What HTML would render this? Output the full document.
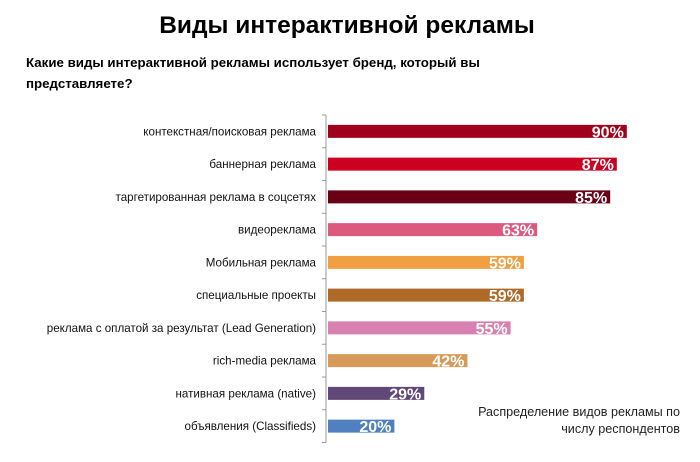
<!DOCTYPE html>
<html><head><meta charset="utf-8"><style>
body{margin:0;background:#fff;width:700px;height:457px;overflow:hidden;font-family:"Liberation Sans","DejaVu Sans",sans-serif}
</style></head><body>
<svg width="700" height="457" xmlns="http://www.w3.org/2000/svg">
<text x="347" y="33" text-anchor="middle" font-size="24.5" font-weight="bold" fill="#000">Виды интерактивной рекламы</text>
<text x="26" y="67" font-size="13.3" font-weight="bold" fill="#000">Какие виды интерактивной рекламы использует бренд, который вы</text>
<text x="26" y="88" font-size="13.3" font-weight="bold" fill="#000">представляете?</text>
<g id="plot"></g>
<text x="680" y="416" text-anchor="end" font-size="12.6" fill="#222">Распределение видов рекламы по</text>
<text x="680" y="433" text-anchor="end" font-size="12.6" fill="#222">числу респондентов</text>
</svg>
<script>
const categories=["контекстная/поисковая реклама","баннерная реклама","таргетированная реклама в соцсетях","видеореклама","Мобильная реклама","специальные проекты","реклама с оплатой за результат (Lead Generation)","rich-media реклама","нативная реклама (native)","объявления (Classifieds)"];
const values=[90,87,85,63,59,59,55,42,29,20];
const colors=["#a0001c","#cc0020","#6a0016","#dc5a80","#f0a040","#b06a28","#d880b0","#d89a58","#604878","#5080c0"];
const NS="http://www.w3.org/2000/svg";
const g=document.getElementById('plot');
const x0=328,pxPer=3.32,yTop=115,step=32.75,barH=13;
const xs=v=>x0+v*pxPer;
const yc=i=>yTop+step*(i+0.5);
function mk(t,a){const e=document.createElementNS(NS,t);for(const k in a)e.setAttribute(k,a[k]);g.appendChild(e);return e;}
let ax=mk('line',{x1:326,x2:326,y1:yTop,y2:yTop+step*10,stroke:'#999','stroke-width':1});


for(let i=0;i<=10;i++){const t=mk('line',{x1:322,x2:326,y1:yTop+step*i,y2:yTop+step*i,stroke:'#999'});

}
categories.forEach((c,i)=>{
const y=yc(i);
const l=mk('text',{x:316,y:y+4,'text-anchor':'end','font-size':11.6,fill:'#111'});l.textContent=c;


const r=mk('rect',{x:x0,y:y-barH/2,width:xs(values[i])-x0,height:barH,fill:colors[i]});


const v=mk('text',{x:xs(values[i])-3,y:y+6,'text-anchor':'end','font-size':16,'font-weight':'bold',fill:'#fff'});v.textContent=values[i]+'%';


});
</script>
</body></html>
